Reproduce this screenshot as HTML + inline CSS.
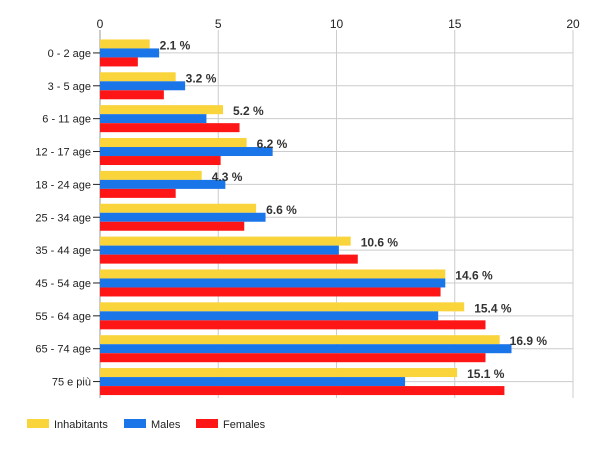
<!DOCTYPE html>
<html><head><meta charset="utf-8"><style>
body{margin:0;background:#fff;font-family:"Liberation Sans",Arial,sans-serif}
svg text{font-family:"Liberation Sans",Arial,sans-serif}
</style></head><body>
<svg id="chart" width="600" height="450" xmlns="http://www.w3.org/2000/svg"></svg>
<script>
const categories=["0 - 2 age","3 - 5 age","6 - 11 age","12 - 17 age","18 - 24 age","25 - 34 age","35 - 44 age","45 - 54 age","55 - 64 age","65 - 74 age","75 e più"];
const inhabitants=[2.1,3.2,5.2,6.2,4.3,6.6,10.6,14.6,15.4,16.9,15.1];
const males=[2.5,3.6,4.5,7.3,5.3,7.0,10.1,14.6,14.3,17.4,12.9];
const females=[1.6,2.7,5.9,5.1,3.2,6.1,10.9,14.4,16.3,16.3,17.1];
const xTicks=[0,5,10,15,20];
const seriesNames=["Inhabitants","Males","Females"];
const colors=["#f9d43a","#1a75e8","#fe1616"];
const svg=document.getElementById('chart');
const NS="http://www.w3.org/2000/svg";
const X0=100,X1=573,Y0=30,Y1=398,xMax=20;
const pitch=(Y1-36.5)/categories.length;
function xs(v){return X0+v/xMax*(X1-X0);}
function yc(i){return 36.5+pitch*(i+0.5);}
function mk(t,a,txt){const e=document.createElementNS(NS,t);for(const k in a)e.setAttribute(k,a[k]);if(txt!=null)e.textContent=txt;svg.appendChild(e);return e;}
xTicks.forEach(t=>{
  const l=mk('line',{x1:xs(t),x2:xs(t),y1:Y0,y2:Y1,stroke:'#ccc','stroke-width':1});
  
  
  const tx=mk('text',{x:xs(t),y:Y0-2,'text-anchor':'middle','font-size':12,fill:'#222'},t);
  
  
});
categories.forEach((c,i)=>{
  const l=mk('line',{x1:X0,x2:X1,y1:yc(i),y2:yc(i),stroke:'#ccc','stroke-width':1});
  
  
});
const ax=mk('line',{x1:X0,x2:X0,y1:Y0,y2:Y1,stroke:'#999','stroke-width':1});


const series=[inhabitants,males,females];
categories.forEach((c,i)=>{
  const top=yc(i)-13.5;
  series.forEach((s,j)=>{
    const r=mk('rect',{x:X0,y:top+j*9,width:xs(s[i])-X0,height:9,fill:colors[j]});
    
    
  });
  const tk=mk('line',{x1:X0-7,x2:X0,y1:yc(i),y2:yc(i),stroke:'#222','stroke-width':1});
  
  
  const lb=mk('text',{x:X0-9,y:yc(i)+4,'text-anchor':'end','font-size':11,fill:'#222'},c);
  
  
  const vl=mk('text',{x:xs(inhabitants[i])+10,y:top+10,'font-size':12,'font-weight':'bold',fill:'#333'},inhabitants[i].toFixed(1)+' %');
  
  
});
const lx=[27,124,196];
seriesNames.forEach((n,j)=>{
  const r=mk('rect',{x:lx[j],y:419,width:22,height:9,fill:colors[j]});
  
  
  const t=mk('text',{x:lx[j]+27,y:428,'font-size':11,fill:'#222'},n);
  
  
});
</script>
</body></html>
